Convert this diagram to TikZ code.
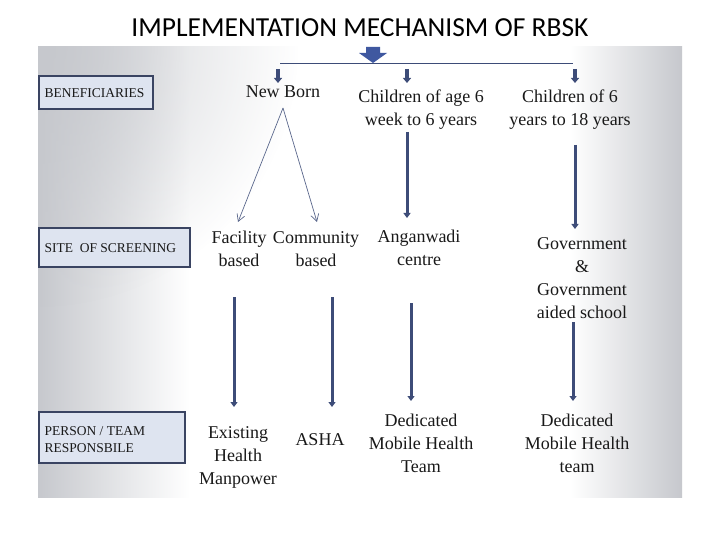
\documentclass[tikz,border=0pt]{standalone}
\usepackage{fontspec}
\setmainfont{Liberation Serif}
\newfontfamily\titlefont{Carlito}
\usetikzlibrary{arrows.meta,shadings,fadings}
\definecolor{navy}{HTML}{3D4C78}
\definecolor{bignavy}{HTML}{3F58A0}
\definecolor{boxfill}{HTML}{DEE4F0}
\definecolor{boxline}{HTML}{3A4462}
\definecolor{bggray}{HTML}{C6C8CD}
\tikzfading[name=radfade, inner color=transparent!0, outer color=transparent!100]
\tikzset{
  labelbox/.style={draw=boxline, line width=2.4pt, fill=boxfill, anchor=north west, inner sep=0pt},
  labeltxt/.style={anchor=west, align=left, font=\fontsize{13.5}{17}\selectfont, text=black!90},
  item/.style={align=center, font=\fontsize{18}{23}\selectfont, text=black!90, inner sep=0pt},
  thick arrow/.style={draw=navy, line width=3pt, -{Triangle[width=7pt,length=5pt]}},
  small arrow/.style={draw=navy, line width=3.5pt, -{Triangle[width=8pt,length=5pt]}},
  thin arrow/.style={draw=navy!85, line width=0.7pt, -{Straight Barb[width=8pt,length=7pt]}},
}
\begin{document}
\begin{tikzpicture}[x=1pt,y=-1pt]
\useasboundingbox (0,0) rectangle (720,540);
\fill[white] (0,0) rectangle (720,540);
% panel background
\begin{scope}
\clip (38,47) rectangle (682,497);
\fill[white] (38,47) rectangle (682,497);
\shade[left color=bggray, right color=white] (38,47) rectangle (190,497);
\shade[left color=white, right color=bggray] (570,47) rectangle (682,497);
\fill[bggray, path fading=radfade, opacity=0.9] (38,47) circle (260);
\end{scope}
% title
\node[font=\titlefont\fontsize{27.5}{30}\selectfont] (title) at (360,28) {IMPLEMENTATION MECHANISM OF RBSK};
% label boxes
\node[labelbox, minimum width=114pt, minimum height=33pt] (b1) at (38,75) {};
\node[labeltxt] at ([xshift=3pt]b1.west) {BENEFICIARIES};
\node[labelbox, minimum width=151pt, minimum height=39pt] (b2) at (38,227) {};
\node[labeltxt] at ([xshift=3pt]b2.west) {SITE\ \ OF SCREENING};
\node[labelbox, minimum width=146pt, minimum height=51pt] (b3) at (38,411) {};
\node[labeltxt] at ([xshift=3pt,yshift=-2pt]b3.west) {PERSON / TEAM\\RESPONSBILE};
% top connector
\draw[navy, line width=0.8pt] (280,63) -- (573,63);
\fill[bignavy] (366,47) -- (380,47) -- (380,53) -- (387,53) -- (373,63) -- (359,53) -- (366,53) -- cycle;
\coordinate (t1) at (278,69); \coordinate (t1e) at (278,83);
\coordinate (t2) at (407,69); \coordinate (t2e) at (407,83);
\coordinate (t3) at (575,69); \coordinate (t3e) at (575,83);
\draw[small arrow] (t1) -- (t1e);
\draw[small arrow] (t2) -- (t2e);
\draw[small arrow] (t3) -- (t3e);
% row 1
\node[item] (nb) at (283,92) {New Born};
\node[item] (c1) at (421,110) {Children of age 6\\week to 6 years};
\node[item] (c2) at (570,110) {Children of 6\\years to 18 years};
% row 2
\node[item] (fac) at (239,249) {Facility\\based};
\node[item] (com) at (316,249) {Community\\based};
\node[item] (ang) at (419,248) {Anganwadi\\centre};
\node[item] (gov) at (582,278) {Government\\\&\\Government\\aided school};
% row 3
\node[item] (ehm) at (238,457) {Existing\\Health\\Manpower};
\node[item] (asha) at (320,440) {ASHA};
\node[item] (dm1) at (421,443) {Dedicated\\Mobile Health\\Team};
\node[item] (dm2) at (577,443) {Dedicated\\Mobile Health\\team};
% new born split
\coordinate (nbapex) at (283,108);
\draw[thin arrow] (nbapex) -- (238,222);
\draw[thin arrow] (nbapex) -- (317,222);
% vertical arrows row1 -> row2
\draw[thick arrow] (407,132) -- (407,218);
\draw[thick arrow] (575,145) -- (575,229);
% row2 -> row3
\draw[thick arrow] (234,297) -- (234,407);
\draw[thick arrow] (332,297) -- (332,407);
\draw[thick arrow] (411,303) -- (411,401);
\draw[thick arrow] (573,322) -- (573,401);
\end{tikzpicture}
\end{document}
